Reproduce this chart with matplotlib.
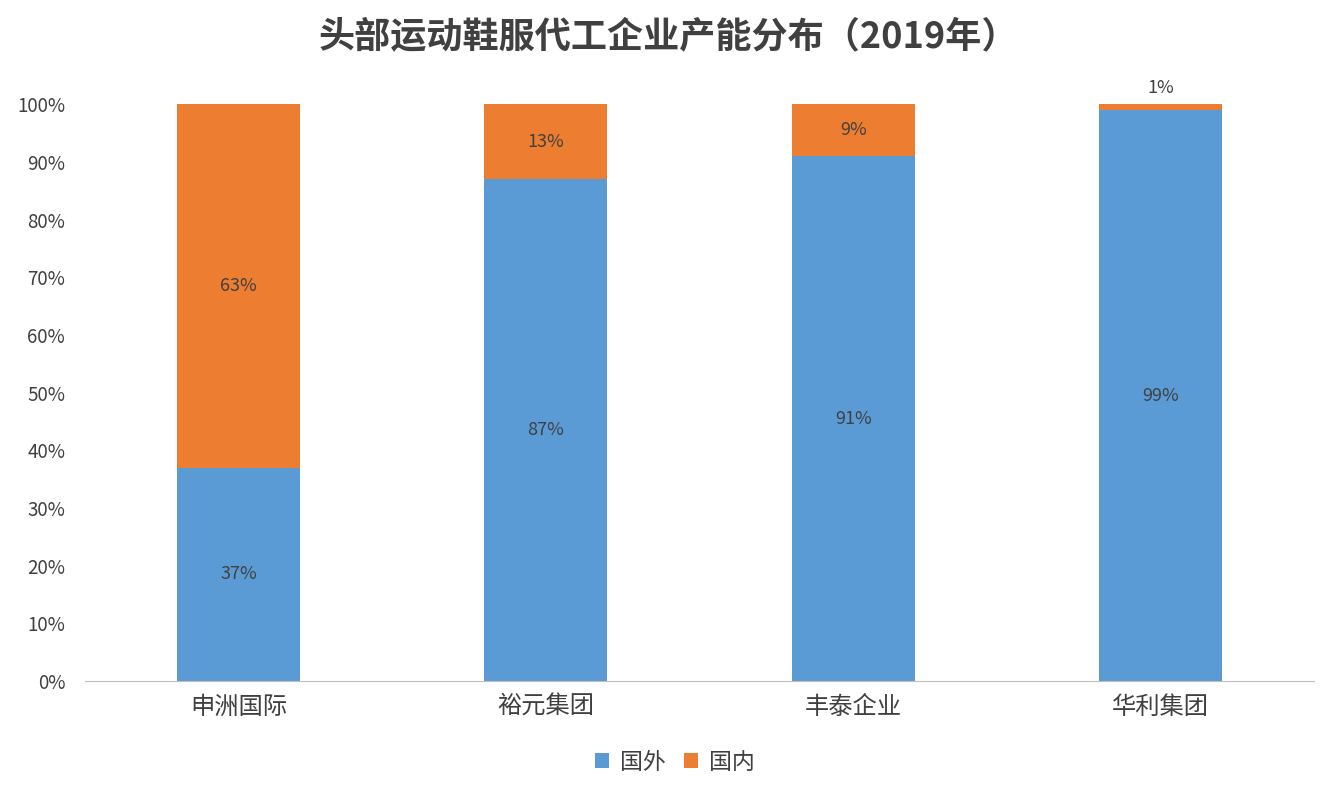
import matplotlib
matplotlib.use("Agg")
import matplotlib.pyplot as plt
import numpy as np

plt.rcParams['font.family'] = ['Noto Sans CJK SC', 'DejaVu Sans']

companies = ['申洲国际', '裕元集团', '丰泰企业', '华利集团']
overseas = [37, 87, 91, 99]
domestic = [63, 13, 9, 1]

BLUE = '#5B9BD5'
ORANGE = '#ED7D31'
TEXT = '#404040'

fig = plt.figure(figsize=(13.44, 8.08), dpi=100)
ax = fig.add_axes([0.063, 0.157, 0.915, 0.714])

x = np.arange(len(companies))
width = 0.40
ax.bar(x, overseas, width, color=BLUE, label='国外')
ax.bar(x, domestic, width, bottom=overseas, color=ORANGE, label='国内')

for i in range(len(companies)):
    ax.text(x[i], overseas[i] / 2, f'{overseas[i]}%', ha='center', va='center',
            fontsize=13, color=TEXT)
    if domestic[i] >= 5:
        ax.text(x[i], overseas[i] + domestic[i] / 2, f'{domestic[i]}%', ha='center',
                va='center', fontsize=13, color=TEXT)
    else:
        ax.text(x[i], 100 + 1.2, f'{domestic[i]}%', ha='center', va='bottom',
                fontsize=13, color=TEXT)

ax.set_xlim(-0.5, 3.5)
ax.set_ylim(0, 100)
ax.set_yticks(np.arange(0, 101, 10))
ax.set_yticklabels([f'{v}%' for v in range(0, 101, 10)])
ax.set_xticks(x)
ax.set_xticklabels(companies)
ax.tick_params(axis='y', length=0, labelsize=13.5, colors=TEXT, pad=14)
ax.tick_params(axis='x', length=0, labelsize=17.5, colors=TEXT, pad=9)

for s in ['top', 'right', 'left']:
    ax.spines[s].set_visible(False)
ax.spines['bottom'].set_color('#BFBFBF')

fig.suptitle('头部运动鞋服代工企业产能分布（2019年）', x=0.497, y=0.978,
             fontsize=26, fontweight='bold', color=TEXT)

ax.legend(loc='upper center', bbox_to_anchor=(0.48, -0.085), ncol=2, frameon=False,
          fontsize=16.5, handlelength=0.6, handleheight=0.6, columnspacing=0.8,
          handletextpad=0.5, labelcolor=TEXT)

fig.savefig('out.png', dpi=100)
